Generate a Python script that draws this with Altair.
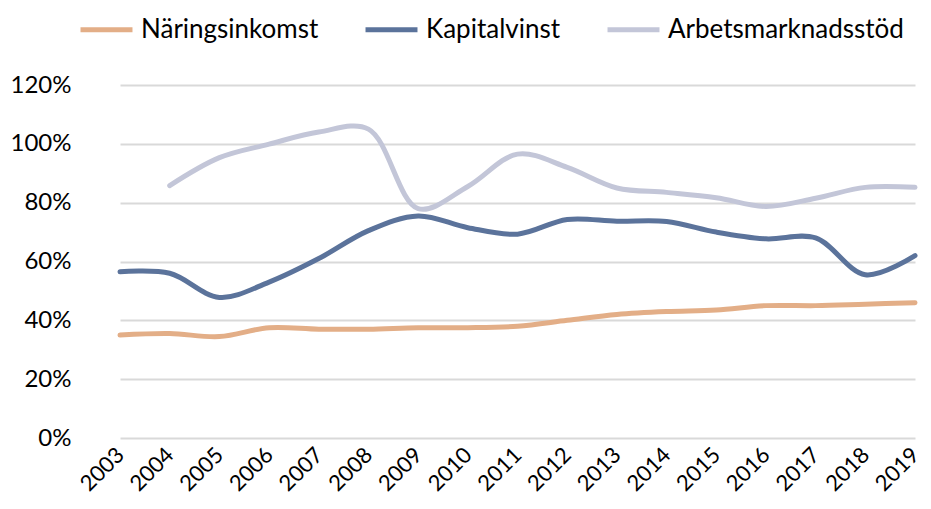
import altair as alt
import pandas as pd

years = [str(y) for y in range(2003, 2020)]
naringsinkomst = [35, 35.5, 34.5, 37.5, 37, 37, 37.5, 37.5, 38, 40, 42, 43, 43.5, 45, 45, 45.5, 46]
kapitalvinst = [56.5, 56, 47.8, 53, 61, 70.5, 75.5, 71.5, 69.3, 74.3, 73.7, 73.6, 70, 67.7, 68, 55.5, 62]
arbetsmarknadsstod = [None, 85.8, 95.3, 99.9, 104, 105, 78, 85.5, 96.5, 92, 85, 83.5, 81.7, 78.7, 81.5, 85.2, 85.2]

series = ["Näringsinkomst", "Kapitalvinst", "Arbetsmarknadsstöd"]
colors = ["#E3AE87", "#5B739B", "#C3C6D8"]

rows = []
for name, vals in zip(series, [naringsinkomst, kapitalvinst, arbetsmarknadsstod]):
    for y, v in zip(years, vals):
        if v is not None:
            rows.append({"year": y, "series": name, "value": v / 100})
df = pd.DataFrame(rows)

chart = alt.Chart(df).mark_line(
    interpolate="catmull-rom", strokeWidth=5, strokeCap="round"
).encode(
    x=alt.X("year:O", sort=years, title=None,
            scale=alt.Scale(type="point", padding=0, range=[25, 820]),
            axis=alt.Axis(labelAngle=-45, labelAlign="right", labelBaseline="middle",
                          labelPadding=13, ticks=False, domain=False, grid=False,
                          labelFontSize=22, labelColor="#000000")),
    y=alt.Y("value:Q", title=None,
            scale=alt.Scale(domain=[0, 1.2], nice=False, zero=True),
            axis=alt.Axis(format=".0%", values=[0, 0.2, 0.4, 0.6, 0.8, 1.0, 1.2],
                          ticks=False, domain=False, labelPadding=24,
                          labelFontSize=24, labelColor="#000000",
                          gridColor="#D9D9D9", gridWidth=2)),
    color=alt.Color("series:N", sort=series,
                    scale=alt.Scale(domain=series, range=colors),
                    legend=alt.Legend(title=None, orient="none", direction="horizontal",
                                      legendX=-17, legendY=-84,
                                      symbolType="stroke", symbolSize=2700,
                                      symbolStrokeWidth=5, labelFontSize=26,
                                      labelColor="#000000", columnPadding=36,
                                      labelOffset=6, labelLimit=300)),
    order=alt.Order("series:N"),
).properties(
    width=826, height=353,
    autosize=alt.AutoSizeParams(type="none"),
    padding={"left": 87, "top": 77, "right": 2, "bottom": 63},
).configure(font="Lato").configure_view(stroke=None)

chart.save("out.html", embed_options={"renderer": "svg", "actions": False})
